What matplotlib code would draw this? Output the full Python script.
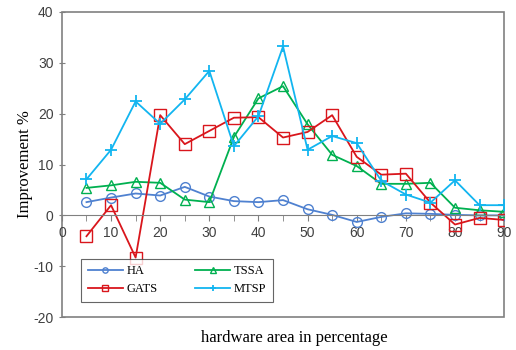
import numpy as np
import matplotlib.pyplot as plt
from matplotlib.patches import Rectangle

plt.rcParams['axes.unicode_minus'] = False

# Improvement per hardware area
area = np.array([5, 10, 15, 20, 25, 30, 35, 40, 45, 50, 55, 60, 65, 70, 75, 80, 85, 90])
ha = np.array([2.6, 3.5, 4.3, 3.9, 5.6, 3.7, 2.8, 2.6, 3.0, 1.2, 0.1, -1.3, -0.3, 0.4, 0.3, 0.1, 0.0, 0.0])
tssa = np.array([5.4, 5.9, 6.6, 6.4, 3.1, 2.6, 15.4, 23.0, 25.4, 17.9, 11.9, 9.7, 6.2, 6.2, 6.4, 1.5, 1.0, 0.7])
gats = np.array([-4.1, 2.0, -8.3, 19.7, 14.0, 16.6, 19.2, 19.3, 15.3, 16.4, 19.7, 11.5, 8.0, 8.2, 2.5, -1.8, -0.5, -0.9])
mtsp = np.array([7.1, 12.9, 22.4, 18.0, 22.8, 28.4, 13.6, 19.5, 33.2, 12.9, 15.6, 14.2, 6.8, 4.1, 2.5, 6.9, 2.0, 2.0])

fig = plt.figure(figsize=(5.16, 3.5), dpi=100)
ax = fig.add_axes([0.120, 0.094, 0.857, 0.872])

l_ha, = ax.plot(area, ha, '-o', color='#4F81D0', mfc='none', ms=7, lw=1.3, label='HA')
l_tssa, = ax.plot(area, tssa, '-^', color='#00B050', mfc='none', ms=7, lw=1.3, label='TSSA')
l_gats, = ax.plot(area, gats, '-s', color='#D9161C', mfc='none', ms=8, lw=1.3, label='GATS')
l_mtsp, = ax.plot(area, mtsp, '-+', color='#12B5F0', ms=9, mew=1.3, lw=1.3, label='MTSP')

ax.set_xlim(0, 90)
ax.set_ylim(-20, 40)
ax.set_yticks(np.arange(-20, 41, 10))
ax.set_xticks(np.arange(0, 91, 10))
ax.set_xticks(np.arange(0, 91, 5), minor=True)

# x axis runs along zero, the box is drawn separately
for s in ['top', 'right', 'left']:
    ax.spines[s].set_visible(False)
ax.spines['bottom'].set_position(('data', 0))
ax.spines['bottom'].set_color('#808080')
ax.add_patch(Rectangle((0, 0), 1, 1, transform=ax.transAxes, fill=False,
                       edgecolor='#808080', lw=1.2, clip_on=False, zorder=0))

ax.tick_params(axis='x', which='both', direction='out', length=4, color='#808080',
               labelsize=10, labelcolor='#404040', pad=4)
ax.tick_params(axis='y', direction='inout', length=5, color='#808080',
               labelsize=10, labelcolor='#404040')
for lab in ax.get_xticklabels() + ax.get_yticklabels():
    lab.set_family('Liberation Sans')

ax.set_ylabel('Improvement %', family='Liberation Serif', fontsize=12, labelpad=0)
fig.text(0.57, 0.035, 'hardware area in percentage', family='Liberation Serif',
         fontsize=12, ha='center', va='center')

leg = ax.legend([l_ha, l_gats, l_tssa, l_mtsp], ['HA', 'GATS', 'TSSA', 'MTSP'],
                loc='lower left', bbox_to_anchor=(0.03, 0.03), ncol=2,
                prop={'family': 'Liberation Serif', 'size': 9}, frameon=True,
                fancybox=False, edgecolor='#404040', handlelength=2.8,
                markerscale=0.55, columnspacing=3.0, borderpad=0.5, handletextpad=0.3)
leg.get_frame().set_linewidth(0.8)

plt.savefig('out.png', dpi=100)
